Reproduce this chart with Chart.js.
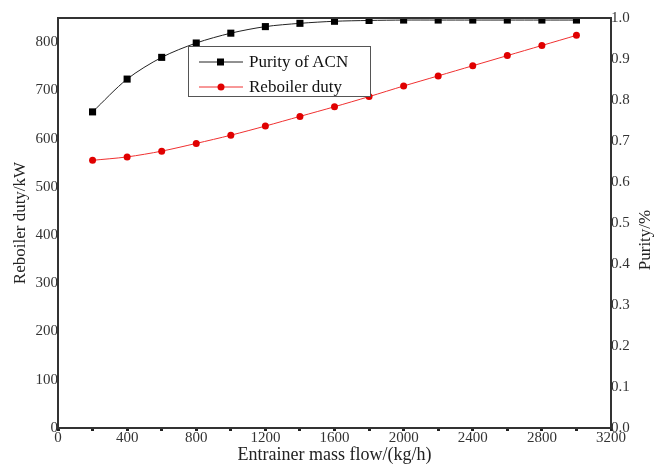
<!DOCTYPE html>
<html>
<head>
<meta charset="utf-8">
<script src="https://cdn.jsdelivr.net/npm/chart.js@4/dist/chart.umd.min.js"></script>
<style>
  body { margin: 0; background: #fff; }
  #wrap { position: relative; width: 657px; height: 466px; }
  #legend {
    position: absolute; left: 188px; top: 46px; width: 183px; height: 51px;
    border: 1px solid #555; background: #fff; box-sizing: border-box;
    font-family: "Liberation Serif", serif; font-size: 17px; color: #111;
  }
  .item { position: absolute; left: 10px; height: 20px; display: flex; align-items: center; }
  .item canvas { margin-right: 6px; }
</style>
</head>
<body>
<div id="wrap">
  <canvas id="chart" width="657" height="466"></canvas>
  <div id="legend"></div>
</div>
<script>
const flow = [200, 400, 600, 800, 1000, 1200, 1400, 1600, 1800, 2000, 2200, 2400, 2600, 2800, 3000];
const purity = [0.771, 0.851, 0.904, 0.939, 0.963, 0.979, 0.987, 0.992, 0.994, 0.995, 0.995, 0.995, 0.995, 0.995, 0.995];
const duty = [555, 562, 574, 590, 607, 626, 646, 666, 687, 709, 730, 751, 772, 793, 814];
const xLabels = [0, 400, 800, 1200, 1600, 2000, 2400, 2800, 3200];
const dutyTicks = [0, 100, 200, 300, 400, 500, 600, 700, 800];

const serif = "'Liberation Serif', 'Times New Roman', serif";

/* frame around the plot area */
const frame = {
    id: "frame",
    afterDatasetsDraw(chart) {
        const a = chart.chartArea;
        const ctx = chart.ctx;
        ctx.save();
        ctx.strokeStyle = "#333";
        ctx.lineWidth = 2;
        ctx.strokeRect(a.left, a.top, a.right - a.left, a.bottom - a.top);
        ctx.restore();
    }
};

/* right title reading bottom-to-top like the left one */
const rightTitle = {
    id: "rightTitle",
    afterDraw(chart) {
        const s = chart.scales.y2;
        const ctx = chart.ctx;
        ctx.save();
        ctx.translate(s.right - 11, (s.top + s.bottom) / 2 + 17);
        ctx.rotate(-Math.PI / 2);
        ctx.font = "17px " + serif;
        ctx.fillStyle = "#222";
        ctx.textAlign = "center";
        ctx.textBaseline = "middle";
        ctx.fillText("Purity/%", 0, 0);
        ctx.restore();
    }
};

const chart = new Chart(document.getElementById("chart").getContext("2d"), {
    type: "line",
    data: {
        datasets: [{
            label: "Purity of ACN",
            data: flow.map((x, i) => ({ x: x, y: purity[i] })),
            yAxisID: "y2",
            borderColor: "#222",
            backgroundColor: "#000",
            borderWidth: 1,
            pointStyle: "rect",
            pointRadius: 5,
            pointBorderWidth: 0,
            tension: 0.3
        }, {
            label: "Reboiler duty",
            data: flow.map((x, i) => ({ x: x, y: duty[i] })),
            yAxisID: "y",
            borderColor: "#f03030",
            backgroundColor: "#e00000",
            borderWidth: 1,
            pointStyle: "circle",
            pointRadius: 3.5,
            pointBorderWidth: 0,
            tension: 0.3
        }]
    },
    options: {
        responsive: false,
        animation: false,
        layout: { padding: { top: 18, left: 0, right: 0, bottom: 0 } },
        plugins: { legend: { display: false }, tooltip: { enabled: false } },
        scales: {
            x: {
                type: "linear",
                min: 0, max: 3200,
                ticks: {
                    stepSize: 200, autoSkip: false,
                    callback: v => xLabels.includes(v) ? String(v) : "",
                    font: { family: serif, size: 15 }, color: "#333", padding: -2, maxRotation: 0
                },
                grid: { drawOnChartArea: false, tickLength: 3, tickWidth: 3, color: "#222" },
                border: { color: "#333", width: 2 },
                title: { display: true, text: "Entrainer mass flow/(kg/h)", font: { family: serif, size: 18 }, color: "#222", padding: { top: 0, bottom: 0 } },
                afterFit: s => { s.height = 38; }
            },
            y: {
                position: "left",
                min: 0, max: 850,
                afterBuildTicks: s => { s.ticks = dutyTicks.map(v => ({ value: v })); },
                grid: { drawOnChartArea: false, tickLength: 0 },
                border: { color: "#333", width: 2 },
                ticks: { font: { family: serif, size: 15 }, color: "#333", padding: 0 },
                title: { display: true, text: "Reboiler duty/kW", font: { family: serif, size: 17 }, color: "#222", padding: { top: 10, bottom: 0 } },
                afterFit: s => { s.width = 58; }
            },
            y2: {
                position: "right",
                min: 0, max: 1,
                ticks: { stepSize: 0.1, font: { family: serif, size: 15 }, color: "#333", padding: 0, callback: v => v.toFixed(1) },
                grid: { drawOnChartArea: false, tickLength: 0 },
                border: { color: "#333", width: 2 },
                afterFit: s => { s.width = 46; }
            }
        }
    },
    plugins: [frame, rightTitle]
});

/* legend box built from the datasets */
const legend = document.getElementById("legend");
chart.data.datasets.forEach((ds, i) => {
    const item = document.createElement("div");
    item.className = "item";
    item.style.top = (5 + i * 25) + "px";
    const c = document.createElement("canvas");
    c.width = 44; c.height = 14;
    const g = c.getContext("2d");
    g.strokeStyle = ds.borderColor; g.lineWidth = 1;
    g.beginPath(); g.moveTo(0, 7); g.lineTo(44, 7); g.stroke();
    g.fillStyle = ds.backgroundColor;
    if (ds.pointStyle === "rect") { g.fillRect(18, 3.5, 7, 7); }
    else { g.beginPath(); g.arc(22, 7, 3.5, 0, Math.PI * 2); g.fill(); }
    item.appendChild(c);
    const t = document.createElement("span");
    t.textContent = ds.label;
    item.appendChild(t);
    legend.appendChild(item);
});
</script>
</body>
</html>
